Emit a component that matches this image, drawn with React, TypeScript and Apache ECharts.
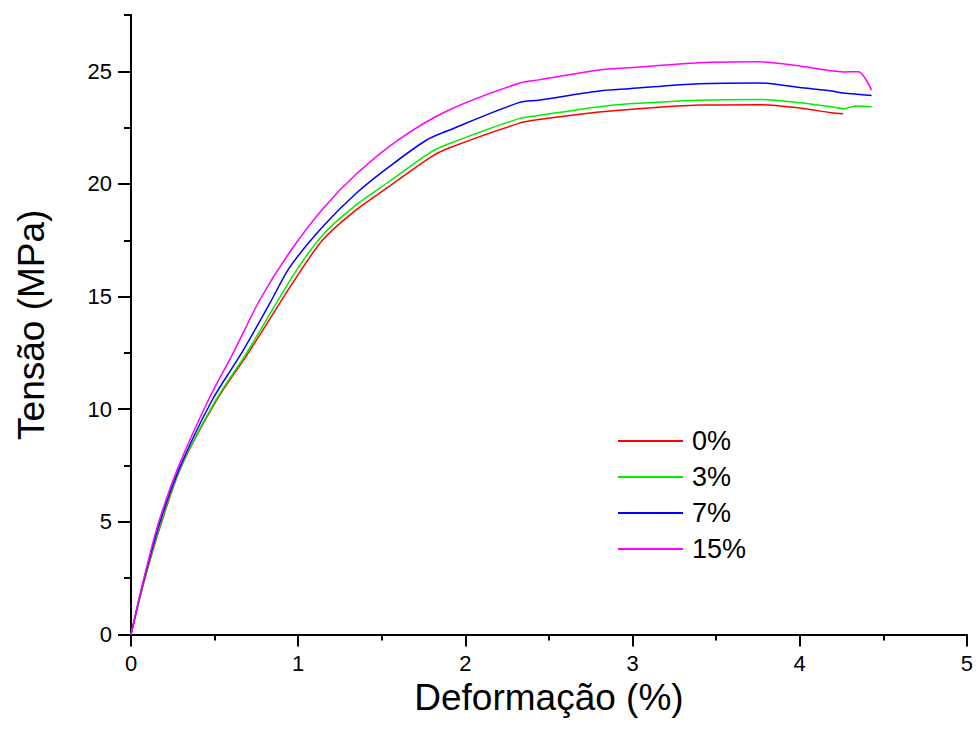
import React, { useEffect, useRef } from "react";
import * as echarts from "echarts";

const seriesNames = ["0%", "3%", "7%", "15%"];
const seriesColors = ["#ff0000", "#00ee00", "#0000ff", "#ff00ff"];

const red: number[][] = [
  [0, 0], [0.08, 2.4], [0.18, 4.92], [0.3, 7.44], [0.513, 10.41], [0.701, 12.49],
  [0.98, 15.75], [1.149, 17.53], [1.349, 18.86], [1.547, 19.9], [1.786, 21.16],
  [1.89, 21.56], [2.32, 22.69], [2.44, 22.86], [2.8, 23.19], [2.98, 23.31],
  [3.4, 23.5], [3.76, 23.52], [4.0, 23.37], [4.19, 23.16], [4.26, 23.12],
];
const green: number[][] = [
  [0, 0], [0.078, 2.4], [0.176, 4.92], [0.298, 7.44], [0.508, 10.41], [0.691, 12.49],
  [0.98, 16.05], [1.149, 17.75], [1.349, 19.08], [1.547, 20.12], [1.786, 21.38],
  [1.89, 21.75], [2.32, 22.9], [2.44, 23.04], [2.8, 23.43], [2.98, 23.56],
  [3.4, 23.72], [3.76, 23.75], [4.0, 23.61], [4.19, 23.43], [4.26, 23.34],
  [4.34, 23.46], [4.43, 23.43],
];
const blue: number[][] = [
  [0, 0], [0.076, 2.4], [0.17, 4.92], [0.293, 7.44], [0.486, 10.41], [0.661, 12.49],
  [0.831, 14.71], [0.95, 16.31], [1.149, 18.12], [1.349, 19.6], [1.547, 20.78],
  [1.766, 21.94], [1.89, 22.35], [2.32, 23.61], [2.44, 23.72], [2.8, 24.13],
  [2.98, 24.23], [3.4, 24.45], [3.76, 24.48], [4.0, 24.28], [4.19, 24.13],
  [4.26, 24.04], [4.43, 23.93],
];
const magenta: number[][] = [
  [0, 0], [0.074, 2.4], [0.163, 4.92], [0.283, 7.44], [0.463, 10.41], [0.611, 12.49],
  [0.771, 14.86], [0.95, 16.98], [1.149, 18.91], [1.349, 20.45], [1.597, 21.95],
  [1.89, 23.24], [2.32, 24.47], [2.44, 24.62], [2.8, 25.06], [2.98, 25.16],
  [3.4, 25.38], [3.76, 25.42], [4.0, 25.24], [4.19, 25.02], [4.26, 24.97],
  [4.35, 24.98], [4.43, 24.16],
];
const seriesData = [red, green, blue, magenta];

const yMajorTicks = [0, 5, 10, 15, 20, 25];

export default function App() {
  const ref = useRef<HTMLDivElement>(null);
  useEffect(() => {
    if (!ref.current) return;
    const chart = echarts.init(ref.current, null, { renderer: "svg" });
    const font = "Liberation Sans, Arial, sans-serif";
    chart.setOption({
      animation: false,
      backgroundColor: "#ffffff",
      grid: { left: 131, right: 8, top: 15, bottom: 98.5, containLabel: false },
      legend: {
        orient: "vertical",
        left: 613,
        top: 418,
        itemWidth: 65,
        itemHeight: 2,
        itemGap: 0,
        icon: "rect",
        data: seriesNames,
        textStyle: { fontFamily: font, fontSize: 27, color: "#000", lineHeight: 36, padding: [0, 0, 0, 4] },
      },
      xAxis: {
        type: "value",
        min: 0,
        max: 5,
        interval: 1,
        name: "Deformação (%)",
        nameLocation: "middle",
        nameGap: 33,
        nameTextStyle: { fontFamily: font, fontSize: 37, color: "#000" },
        axisLine: { show: true, lineStyle: { color: "#000", width: 2 } },
        axisTick: { show: true, length: 12, lineStyle: { color: "#000", width: 2 } },
        minorTick: { show: true, splitNumber: 2, length: 6, lineStyle: { color: "#000", width: 2 } },
        axisLabel: { fontFamily: font, fontSize: 22, color: "#000", margin: 18 },
        splitLine: { show: false },
      },
      yAxis: [
        {
          type: "value",
          min: 0,
          max: 27.5,
          name: "Tensão (MPa)",
          nameLocation: "middle",
          nameGap: 81,
          nameTextStyle: { fontFamily: font, fontSize: 37, color: "#000" },
          axisLine: { show: true, onZero: false, lineStyle: { color: "#000", width: 2 } },
          axisTick: { show: true, length: 13, customValues: yMajorTicks, lineStyle: { color: "#000", width: 2 } },
          axisLabel: { fontFamily: font, fontSize: 22, color: "#000", margin: 19, customValues: yMajorTicks },
          splitLine: { show: false },
        },
        {
          type: "value",
          position: "left",
          min: 0,
          max: 27.5,
          interval: 2.5,
          axisLine: { show: false },
          axisTick: { show: true, length: 7, lineStyle: { color: "#000", width: 2 } },
          axisLabel: { show: false },
          splitLine: { show: false },
        },
      ],
      series: seriesNames.map((name, i) => ({
        name,
        type: "line",
        data: seriesData[i],
        smooth: 0.3,
        showSymbol: false,
        symbol: "none",
        yAxisIndex: 0,
        lineStyle: { color: seriesColors[i], width: 1.5 },
        itemStyle: { color: seriesColors[i] },
      })),
    });
    return () => chart.dispose();
  }, []);
  return (
    <div
      ref={ref}
      style={{ position: "fixed", left: 0, top: 0, width: 976, height: 733 }}
    />
  );
}
